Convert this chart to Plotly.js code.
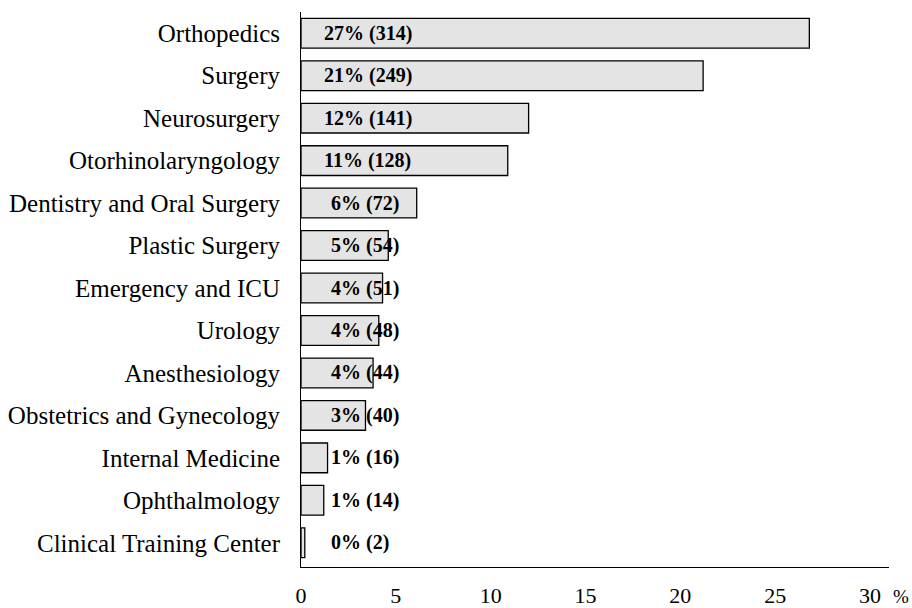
<!DOCTYPE html>
<html>
<head>
<meta charset="utf-8">
<script src="https://cdn.plot.ly/plotly-3.0.1.min.js"></script>
<style>
  body { margin: 0; background: #fff; }
  #chart { width: 912px; height: 608px; }
</style>
</head>
<body>
<div id="chart"></div>
<script>
// departments, top to bottom as in the figure
let departments = [
    "Orthopedics", "Surgery", "Neurosurgery", "Otorhinolaryngology",
    "Dentistry and Oral Surgery", "Plastic Surgery", "Emergency and ICU",
    "Urology", "Anesthesiology", "Obstetrics and Gynecology",
    "Internal Medicine", "Ophthalmology", "Clinical Training Center"
];
let percents = [26.8, 21.2, 12.0, 10.9, 6.1, 4.6, 4.3, 4.1, 3.8, 3.4, 1.4, 1.2, 0.2];
let counts = [314, 249, 141, 128, 72, 54, 51, 48, 44, 40, 16, 14, 2];
let labels = ["27%", "21%", "12%", "11%", "6%", "5%", "4%", "4%", "4%", "3%", "1%", "1%", "0%"];
let xTicks = [0, 5, 10, 15, 20, 25, 30];

let serif = "'Liberation Serif', 'Times New Roman', serif";

let annotations = [];
for (let i = 0; i < departments.length; i++) {
    annotations.push({
        x: 1.1,
        y: departments[i],
        xref: "x",
        yref: "y",
        text: "<b>" + labels[i] + " (" + counts[i] + ")</b>",
        showarrow: false,
        xanchor: "left",
        yanchor: "middle",
        xshift: labels[i].length < 3 ? 7 : 0,
        font: { family: serif, size: 20, color: "#000" }
    });
}
// unit mark next to the last tick
annotations.push({
    x: 1, y: 0, xref: "paper", yref: "paper",
    text: "%", showarrow: false,
    xanchor: "left", yanchor: "middle", xshift: 2, yshift: -29,
    font: { family: serif, size: 19, color: "#000" }
});

let trace = {
    type: "bar",
    orientation: "h",
    y: departments,
    x: percents,
    marker: {
        color: "#e4e4e4",
        line: { color: "#000", width: 1.3 }
    },
    hoverinfo: "none"
};

let layout = {
    width: 912,
    height: 608,
    margin: { l: 301, r: 23, t: 12, b: 41 },
    paper_bgcolor: "#fff",
    plot_bgcolor: "#fff",
    bargap: 0.3,
    showlegend: false,
    font: { family: serif, size: 25, color: "#000" },
    xaxis: {
        range: [0, 31],
        tickvals: xTicks,
        ticktext: xTicks.map(String),
        showgrid: false,
        zeroline: false,
        showline: true,
        linecolor: "#000",
        linewidth: 1,
        ticks: "",
        ticklabelstandoff: 9,
        tickfont: { family: serif, size: 22, color: "#000" }
    },
    yaxis: {
        categoryorder: "array",
        categoryarray: departments.slice().reverse(),
        autorange: false,
        range: [-0.57, 12.5],
        showgrid: false,
        zeroline: false,
        showline: true,
        linecolor: "#000",
        linewidth: 1,
        ticks: "",
        ticklabelstandoff: 15,
        tickfont: { family: serif, size: 25, color: "#000" }
    },
    annotations: annotations
};

Plotly.newPlot("chart", [trace], layout, { displayModeBar: false, staticPlot: true });
</script>
</body>
</html>
